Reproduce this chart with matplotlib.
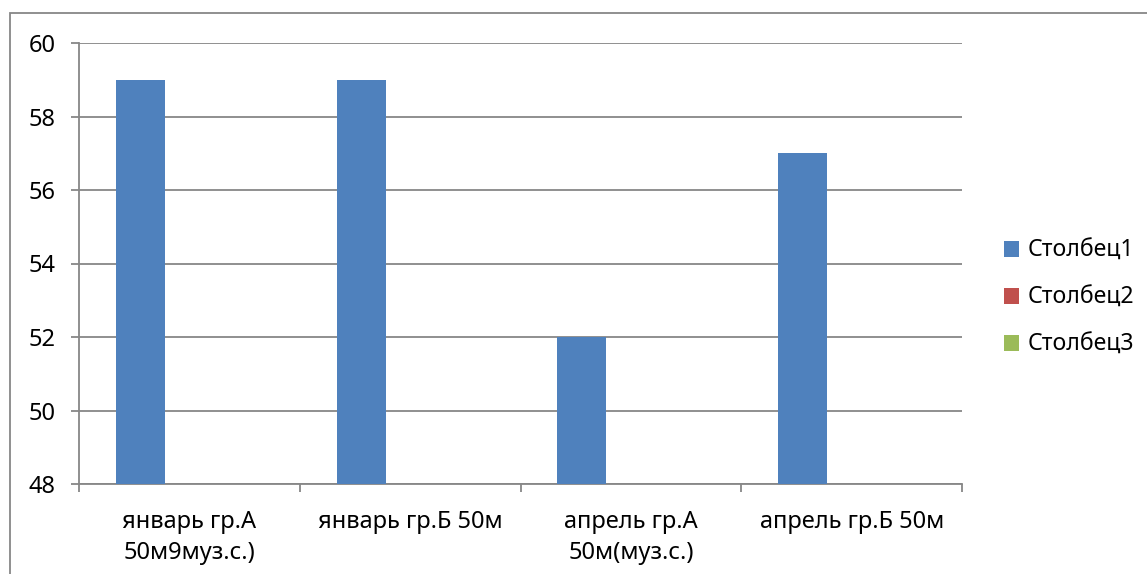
import numpy as np
import matplotlib
matplotlib.use("Agg")
import matplotlib.pyplot as plt
from matplotlib.patches import Rectangle

categories = ["январь гр.А\n50м9муз.с.)", "январь гр.Б 50м",
              "апрель гр.А\n50м(муз.с.)", "апрель гр.Б 50м"]
series_names = ["Столбец1", "Столбец2", "Столбец3"]
col1 = [59, 59, 52, 57]
col2 = [np.nan, np.nan, np.nan, np.nan]
col3 = [np.nan, np.nan, np.nan, np.nan]
colors = ["#4F81BD", "#C0504D", "#9BBB59"]
yticks = [48, 50, 52, 54, 56, 58, 60]

W, H = 1147, 574
plt.rcParams["font.family"] = ["Noto Sans", "DejaVu Sans"]
grey = "#878787"
fs = 17

fig = plt.figure(figsize=(W / 100, H / 100), dpi=100)
ax = fig.add_axes([79 / W, (H - 484) / H, (962 - 79) / W, (484 - 43) / H])

# outer chart frame (only left and top edges are inside the image)
fig.patches.append(Rectangle((9.5 / W, -0.5), 2, (H - 13.5) / H + 0.5,
                             transform=fig.transFigure, fill=False,
                             edgecolor=grey, linewidth=1.3, clip_on=False))

x = np.arange(len(categories))
w = 1 / 4.5
for j, (vals, name) in enumerate(zip([col1, col2, col3], series_names)):
    ax.bar(x + (j - 1) * w, vals, width=w, color=colors[j], label=name,
           zorder=3)

ax.set_xlim(-0.5, len(categories) - 0.5)
ax.set_ylim(48, 60)
ax.set_yticks(yticks)
ax.yaxis.grid(True, color=grey, linewidth=1.3, zorder=0)
ax.tick_params(axis="y", length=6, width=1.3, color=grey, pad=11,
               labelsize=fs)

ax.set_xticks(np.arange(len(categories) + 1) - 0.5)
ax.set_xticklabels([])
ax.tick_params(axis="x", which="major", length=6, width=1.3, color=grey)
ax.set_xticks(x, minor=True)
ax.set_xticklabels(categories, minor=True, fontsize=fs, linespacing=1.4)
ax.tick_params(axis="x", which="minor", length=0, pad=18.5)

for side in ["top", "right"]:
    ax.spines[side].set_visible(False)
for side in ["left", "bottom"]:
    ax.spines[side].set_color(grey)
    ax.spines[side].set_linewidth(1.3)

ax.legend(loc="center left", bbox_to_anchor=(1004 / W, (H - 298) / H),
          bbox_transform=fig.transFigure, frameon=False, fontsize=16.6,
          handlelength=0.66, handleheight=0.66, handletextpad=0.36,
          labelspacing=1.0, borderpad=0, borderaxespad=0)

fig.savefig("out.png", dpi=100)
